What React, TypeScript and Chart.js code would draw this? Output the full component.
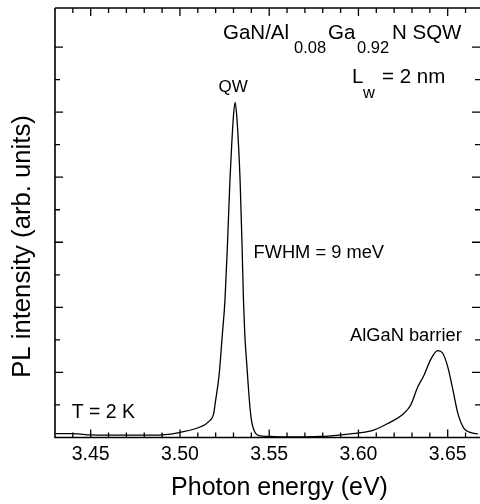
import React, { useEffect, useRef } from "react";
import { Chart, registerables } from "chart.js";

Chart.register(...registerables);

// Photon energy (eV)
const energy = [
  3.4304, 3.44, 3.45, 3.46, 3.47, 3.48, 3.49, 3.5004, 3.5116, 3.5161, 3.5189,
  3.52, 3.5219, 3.5238, 3.5252, 3.5266, 3.528, 3.529, 3.53, 3.5309,
  3.5318, 3.5328, 3.5337, 3.5348, 3.5356, 3.5363, 3.5375, 3.5391, 3.54,
  3.541, 3.5424, 3.5452, 3.551, 3.56, 3.57, 3.579, 3.59, 3.6, 3.6085, 3.6164,
  3.6254, 3.6293, 3.6332, 3.6366, 3.6405, 3.6444, 3.6472, 3.65, 3.6529,
  3.6557, 3.6591, 3.663, 3.6669,
];
// PL intensity (arb. units)
const intensity = [
  0.012, 0.012, 0.008, 0.007, 0.007, 0.007, 0.008, 0.016, 0.033, 0.049, 0.074,
  0.115, 0.19, 0.32, 0.42, 0.59, 0.79, 0.9, 0.99, 1.03,
  0.99, 0.9, 0.79, 0.59, 0.42, 0.32, 0.22, 0.1, 0.055,
  0.03, 0.013, 0.005, 0.003, 0.002, 0.002, 0.003, 0.008, 0.014, 0.023, 0.043,
  0.074, 0.1, 0.155, 0.19, 0.24, 0.267, 0.259, 0.218, 0.147,
  0.074, 0.028, 0.015, 0.011,
];

const xTickValues = [3.45, 3.5, 3.55, 3.6, 3.65];
const xTickLabels = ["3.45", "3.50", "3.55", "3.60", "3.65"];
const xTitle = "Photon energy (eV)";
const yTitle = "PL intensity (arb. units)";

const FONT = '"Liberation Sans", Arial, Helvetica, sans-serif';

const isMajorX = (v: number) => xTickValues.some((t) => Math.abs(t - v) < 1e-6);

const framePlugin = {
  id: "frameAndText",
  afterDraw(chart: any) {
    const { ctx, chartArea } = chart;
    const { left, right, top, bottom } = chartArea;
    const x = chart.scales.x;
    const y = chart.scales.y;
    ctx.save();
    ctx.strokeStyle = "#000";
    ctx.lineWidth = 1.6;
    ctx.beginPath();
    ctx.moveTo(left, top);
    ctx.lineTo(right + 2, top);
    ctx.moveTo(left, top);
    ctx.lineTo(left, bottom);
    ctx.lineTo(right + 2, bottom);
    ctx.stroke();

    ctx.lineWidth = 1.3;
    ctx.beginPath();
    x.ticks.forEach((t: any) => {
      const px = x.getPixelForValue(t.value);
      if (px <= left + 1) return;
      const len = isMajorX(t.value) ? 8 : 5;
      ctx.moveTo(px, bottom);
      ctx.lineTo(px, bottom - len);
      ctx.moveTo(px, top);
      ctx.lineTo(px, top + len);
    });
    y.ticks.forEach((t: any) => {
      const py = y.getPixelForValue(t.value);
      if (py >= bottom - 1 || py <= top + 1) return;
      const k = Math.round(t.value * 10);
      const len = k % 2 === 0 ? 8 : 5;
      ctx.moveTo(left, py);
      ctx.lineTo(left + len, py);
      ctx.moveTo(right, py);
      ctx.lineTo(right - len, py);
    });
    ctx.stroke();

    ctx.fillStyle = "#000";
    ctx.textBaseline = "alphabetic";
    ctx.textAlign = "left";
    // Title: GaN/Al0.08Ga0.92N SQW
    ctx.font = `20.5px ${FONT}`;
    ctx.fillText("GaN/Al", 223, 39);
    ctx.fillText("Ga", 328, 39);
    ctx.fillText("N SQW", 392, 39);
    ctx.font = `16.5px ${FONT}`;
    ctx.fillText("0.08", 294, 53.3);
    ctx.fillText("0.92", 357, 53.3);
    // Lw = 2 nm
    ctx.font = `20.5px ${FONT}`;
    ctx.fillText("L", 352, 83.3);
    ctx.fillText("= 2 nm", 382, 83.3);
    ctx.font = `16.5px ${FONT}`;
    ctx.fillText("w", 363, 98);
    // peak labels
    ctx.font = `17px ${FONT}`;
    ctx.fillText("QW", 218.5, 91.7);
    ctx.font = `18.3px ${FONT}`;
    ctx.fillText("FWHM = 9 meV", 253.5, 257.7);
    ctx.fillText("AlGaN barrier", 350, 340.7);
    ctx.font = `19.5px ${FONT}`;
    ctx.fillText("T = 2 K", 71.7, 418.3);

    // axis titles
    ctx.font = `25px ${FONT}`;
    ctx.textAlign = "center";
    ctx.fillText(xTitle, 279.5, 495);
    ctx.font = `25.7px ${FONT}`;
    ctx.translate(23, 246.5);
    ctx.rotate(-Math.PI / 2);
    ctx.textBaseline = "middle";
    ctx.fillText(yTitle, 0, 0);
    ctx.restore();
  },
};

export default function App() {
  const ref = useRef<HTMLCanvasElement>(null);
  useEffect(() => {
    if (!ref.current) return;
    const chart = new Chart(ref.current, {
      type: "line",
      data: {
        datasets: [
          {
            data: energy.map((e, i) => ({ x: e, y: intensity[i] })),
            borderColor: "#000",
            borderWidth: 1.3,
            pointRadius: 0,
            fill: false,
            cubicInterpolationMode: "monotone",
          },
        ],
      },
      options: {
        responsive: false,
        animation: false,
        devicePixelRatio: 1,
        layout: { padding: { top: 8, right: 0, left: 0, bottom: 0 } },
        plugins: { legend: { display: false }, tooltip: { enabled: false } },
        scales: {
          x: {
            type: "linear",
            min: 3.43,
            max: 3.6681,
            afterFit: (s: any) => {
              s.height = 66.5;
            },
            grid: { display: false, drawTicks: false },
            border: { display: false },
            ticks: {
              stepSize: 0.01,
              autoSkip: false,
              includeBounds: false,
              maxRotation: 0,
              minRotation: 0,
              padding: 5,
              color: "#000",
              font: { family: FONT, size: 19.5 },
              callback: (v: any) => {
                const i = xTickValues.findIndex((t) => Math.abs(t - Number(v)) < 1e-6);
                return i >= 0 ? xTickLabels[i] : "";
              },
            },
          },
          y: {
            min: 0,
            max: 1.32,
            afterFit: (s: any) => {
              s.width = 55;
            },
            grid: { display: false, drawTicks: false },
            border: { display: false },
            ticks: { display: false, stepSize: 0.1 },
          },
        },
      },
      plugins: [framePlugin],
    });
    return () => chart.destroy();
  }, []);
  return (
    <div style={{ position: "fixed", left: 0, top: 0, width: 480, height: 504, background: "#fff" }}>
      <canvas ref={ref} width={480} height={504} style={{ display: "block" }} />
    </div>
  );
}
